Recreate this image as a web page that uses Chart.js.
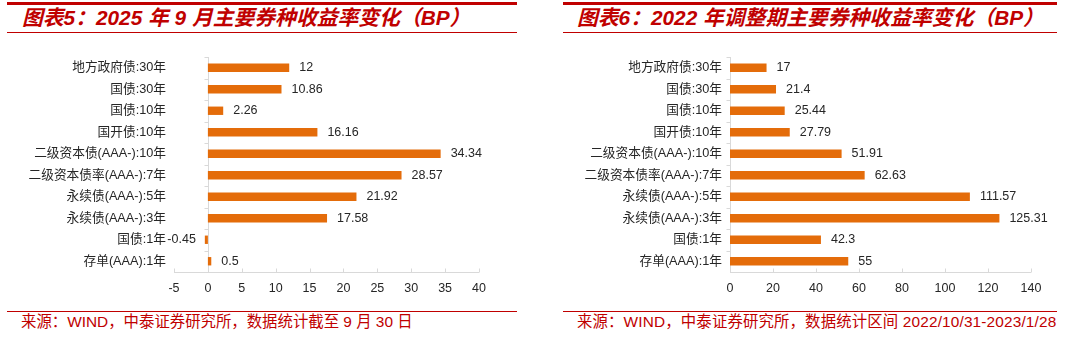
<!DOCTYPE html>
<html>
<head>
<meta charset="utf-8">
<script src="https://cdn.jsdelivr.net/npm/chart.js@4.4.1/dist/chart.umd.min.js"></script>
<style>
  html, body { margin:0; padding:0; background:#fff; }
  body { width:1080px; height:338px; position:relative; overflow:hidden; font-family:"Liberation Sans","Noto Sans CJK SC",sans-serif; }
  .line { position:absolute; background:#C00000; }
  .title { position:absolute; top:6px; color:#C00000; font-size:20.8px; font-weight:bold; font-style:italic; white-space:nowrap; line-height:24px; font-family:"Liberation Sans","Noto Sans CJK SC",sans-serif; }
  .foot { position:absolute; top:312px; color:#C00000; font-size:15.4px; white-space:nowrap; line-height:20px; font-family:"Liberation Sans","Noto Sans CJK SC",sans-serif; }
  .panel { position:absolute; top:40px; width:520px; height:262px; }
</style>
</head>
<body>
<div class="line" style="left:7px; top:2px; width:510px; height:3px;"></div>
<div class="line" style="left:7px; top:32px; width:510px; height:1px;"></div>
<div class="line" style="left:563px; top:2px; width:494px; height:3px;"></div>
<div class="line" style="left:563px; top:32px; width:494px; height:1px;"></div>
<div class="line" style="left:7px; top:311px; width:510px; height:1px;"></div>
<div class="line" style="left:563px; top:311px; width:494px; height:1px;"></div>

<div class="title" style="left:22px;">图表5：2025 年 9 月主要券种收益率变化（BP）</div>
<div class="title" style="left:577px;">图表6：2022 年调整期主要券种收益率变化（BP）</div>
<div class="foot" style="left:21px;">来源：WIND，中泰证券研究所，数据统计截至 9 月 30 日</div>
<div class="foot" style="left:577px; letter-spacing:0.15px;">来源：WIND，中泰证券研究所，数据统计区间 2022/10/31-2023/1/28</div>

<div class="panel" style="left:0px;"><canvas id="c1" width="520" height="262"></canvas></div>
<div class="panel" style="left:540px;"><canvas id="c2" width="520" height="262"></canvas></div>

<script>
const categories = ["地方政府债:30年","国债:30年","国债:10年","国开债:10年","二级资本债(AAA-):10年","二级资本债率(AAA-):7年","永续债(AAA-):5年","永续债(AAA-):3年","国债:1年","存单(AAA):1年"];
const values2025 = [12, 10.86, 2.26, 16.16, 34.34, 28.57, 21.92, 17.58, -0.45, 0.5];
const values2022 = [17, 21.4, 25.44, 27.79, 51.91, 62.63, 111.57, 125.31, 42.3, 55];
const ticks2025 = { min: -5, max: 40, step: 5 };
const ticks2022 = { min: 0, max: 140, step: 20 };

const BAR = '#E46C0A';
const AXIS = '#D9D9D9';
const TXT = '#262626';
const FONT = '"Liberation Sans","Noto Sans CJK SC",sans-serif';

const axesPlugin = {
  id: 'axesPlugin',
  beforeDatasetsDraw(chart) {
    const {ctx, chartArea: a, scales: {x, y}} = chart;
    ctx.save();
    ctx.strokeStyle = AXIS;
    ctx.lineWidth = 1;
    ctx.beginPath();
    const by = Math.round(a.bottom) + 0.5;
    ctx.moveTo(a.left, by); ctx.lineTo(a.right, by);
    x.ticks.forEach(t => {
      const px = Math.round(x.getPixelForValue(t.value)) + 0.5;
      ctx.moveTo(px, by); ctx.lineTo(px, by - 4);
    });
    const x0 = Math.round(x.getPixelForValue(0)) + 0.5;
    ctx.moveTo(x0, a.top); ctx.lineTo(x0, by);
    const n = y.ticks.length;
    const step = (a.bottom - a.top) / n;
    for (let i = 0; i < n; i++) {
      const py = Math.round(a.top + i * step) + 0.5;
      ctx.moveTo(x0 - 4, py); ctx.lineTo(x0, py);
    }
    ctx.stroke();
    ctx.restore();
  },
  afterDatasetsDraw(chart) {
    const {ctx} = chart;
    const meta = chart.getDatasetMeta(0);
    const data = chart.data.datasets[0].data;
    ctx.save();
    ctx.font = '12.5px ' + FONT;
    ctx.fillStyle = TXT;
    ctx.textBaseline = 'middle';
    meta.data.forEach((bar, i) => {
      const v = data[i];
      if (v >= 0) { ctx.textAlign = 'left'; ctx.fillText(String(v), bar.x + 10, bar.y); }
      else { ctx.textAlign = 'right'; ctx.fillText(String(v), bar.x - 9, bar.y); }
    });
    ctx.restore();
  }
};

function makeChart(id, values, tk, yWidth, padRight) {
  return new Chart(document.getElementById(id), {
    type: 'bar',
    data: { labels: categories, datasets: [{ data: values, backgroundColor: BAR, borderWidth: 0, barPercentage: 0.39, categoryPercentage: 1 }] },
    options: {
      indexAxis: 'y',
      responsive: false,
      animation: false,
      layout: { padding: { top: 17, right: padRight, left: 0, bottom: 0 } },
      plugins: { legend: { display: false }, tooltip: { enabled: false } },
      scales: {
        x: {
          min: tk.min, max: tk.max,
          ticks: { stepSize: tk.step, color: TXT, font: { size: 12.5, family: FONT }, padding: 9, maxRotation: 0 },
          grid: { display: false, drawTicks: false },
          border: { display: false },
          afterFit(s) { s.height = 30; }
        },
        y: {
          ticks: { color: TXT, font: { size: 12.7, family: FONT }, padding: 8, autoSkip: false },
          grid: { display: false, drawTicks: false },
          border: { display: false },
          afterFit(s) { s.width = yWidth; }
        }
      }
    },
    plugins: [axesPlugin]
  });
}

makeChart('c1', values2025, ticks2025, 174, 41);
makeChart('c2', values2022, ticks2022, 190, 29);
</script>
</body>
</html>
